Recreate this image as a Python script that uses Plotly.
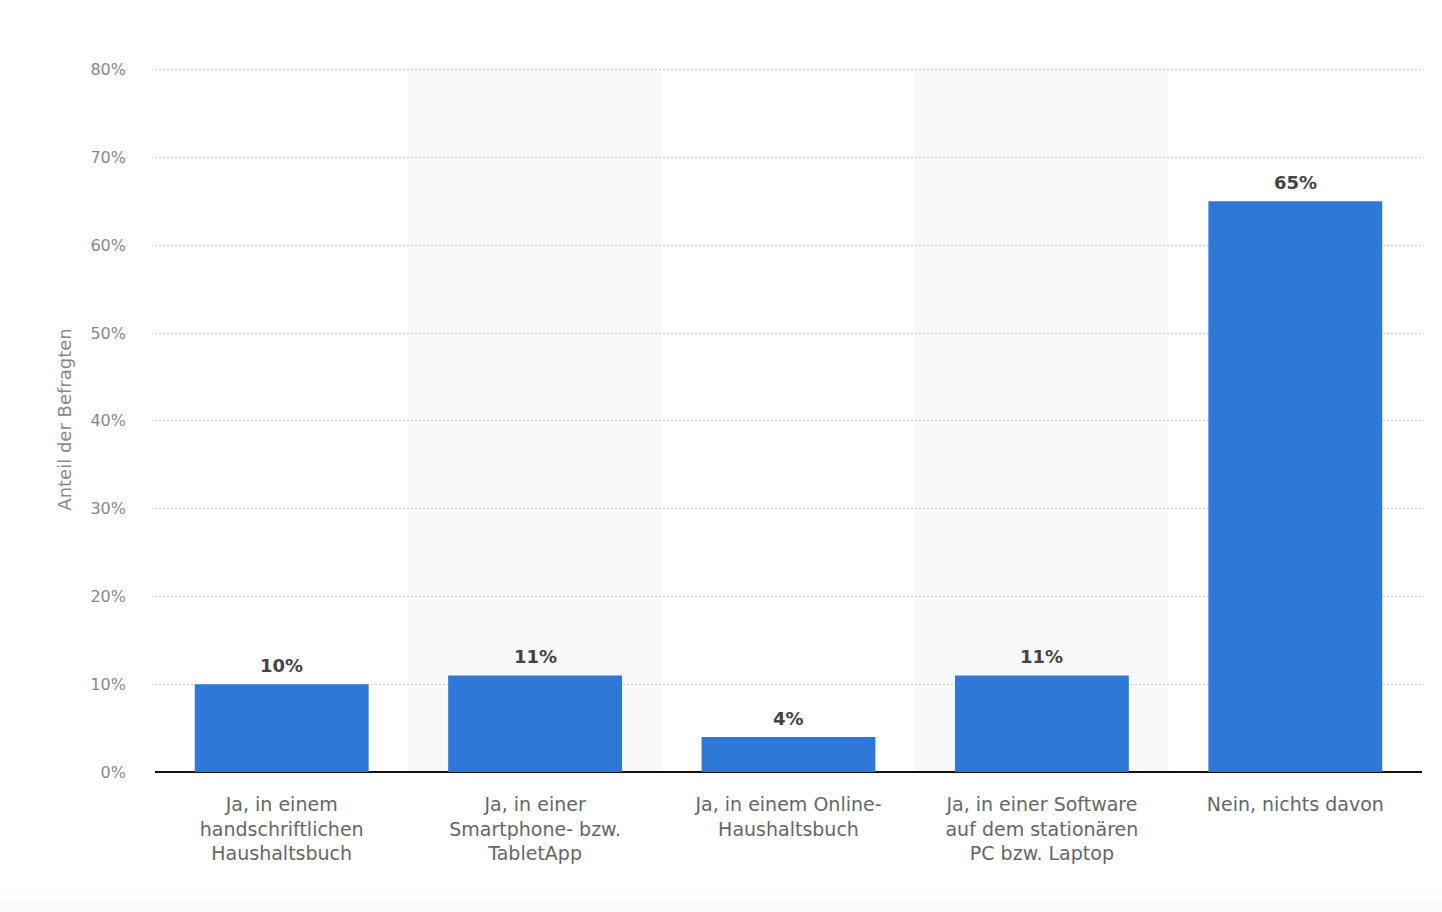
import plotly.graph_objects as go

categories = [
    "Ja, in einem<br>handschriftlichen<br>Haushaltsbuch",
    "Ja, in einer<br>Smartphone- bzw.<br>TabletApp",
    "Ja, in einem Online-<br>Haushaltsbuch",
    "Ja, in einer Software<br>auf dem stationären<br>PC bzw. Laptop",
    "Nein, nichts davon",
]
values = [10, 11, 4, 11, 65]
y_ticks = [0, 10, 20, 30, 40, 50, 60, 70, 80]
y_tick_labels = [f"{v}%" for v in y_ticks]
shaded = [1, 3]

FONT = "DejaVu Sans"
T, B = 67, 140
H_PLOT = 912 - T - B

fig = go.Figure()
xs = list(range(len(categories)))
fig.add_trace(go.Bar(
    x=xs,
    y=values,
    marker=dict(color="#2e78d8", line=dict(width=0)),
    hoverinfo="skip",
))

annotations = []
for x, v in zip(xs, values):
    annotations.append(dict(
        x=x, y=v, xref="x", yref="y", text=f"<b>{v}%</b>", showarrow=False,
        yanchor="bottom", yshift=6,
        font=dict(family=FONT, size=18, color="#444444"),
    ))

shapes = []
for i in shaded:
    shapes.append(dict(type="rect", xref="x", yref="y", x0=i - 0.5, x1=i + 0.5,
                       y0=0, y1=y_ticks[-1], fillcolor="#f8f8f8", line=dict(width=0), layer="below"))
# subtle light strip at the bottom of the page
def py(px):
    return (912 - B - px) / H_PLOT
for top_px, col in [(886, "#fdfdfd"), (900, "#fafafa")]:
    shapes.append(dict(type="rect", xref="paper", yref="paper", x0=-0.2, x1=1.1,
                       y0=py(915), y1=py(top_px),
                       fillcolor=col, line=dict(width=0), layer="below"))

fig.update_layout(
    width=1442, height=912,
    margin=dict(l=155, r=20, t=T, b=B),
    paper_bgcolor="white", plot_bgcolor="white",
    bargap=0.314,
    showlegend=False,
    shapes=shapes,
    annotations=annotations,
    font=dict(family=FONT),
    xaxis=dict(
        tickmode="array", tickvals=xs, ticktext=categories,
        range=[-0.5, len(categories) - 0.5],
        tickfont=dict(family=FONT, size=19, color="#666666"),
        showgrid=False, zeroline=False, showline=False, ticks="",
        ticklabelstandoff=19,
    ),
    yaxis=dict(
        range=[0, 80.3], tickmode="array", tickvals=y_ticks, ticktext=y_tick_labels,
        tickfont=dict(family=FONT, size=16, color="#888888"),
        showgrid=True, gridcolor="#c8c8c8", griddash="2px,2px", gridwidth=1,
        zeroline=True, zerolinecolor="#111111", zerolinewidth=2,
        ticks="", ticklen=0, ticklabelstandoff=28,
        title=dict(text="Anteil der Befragten", font=dict(family=FONT, size=18, color="#888888"), standoff=14),
    ),
)

fig.write_html("out.html")
